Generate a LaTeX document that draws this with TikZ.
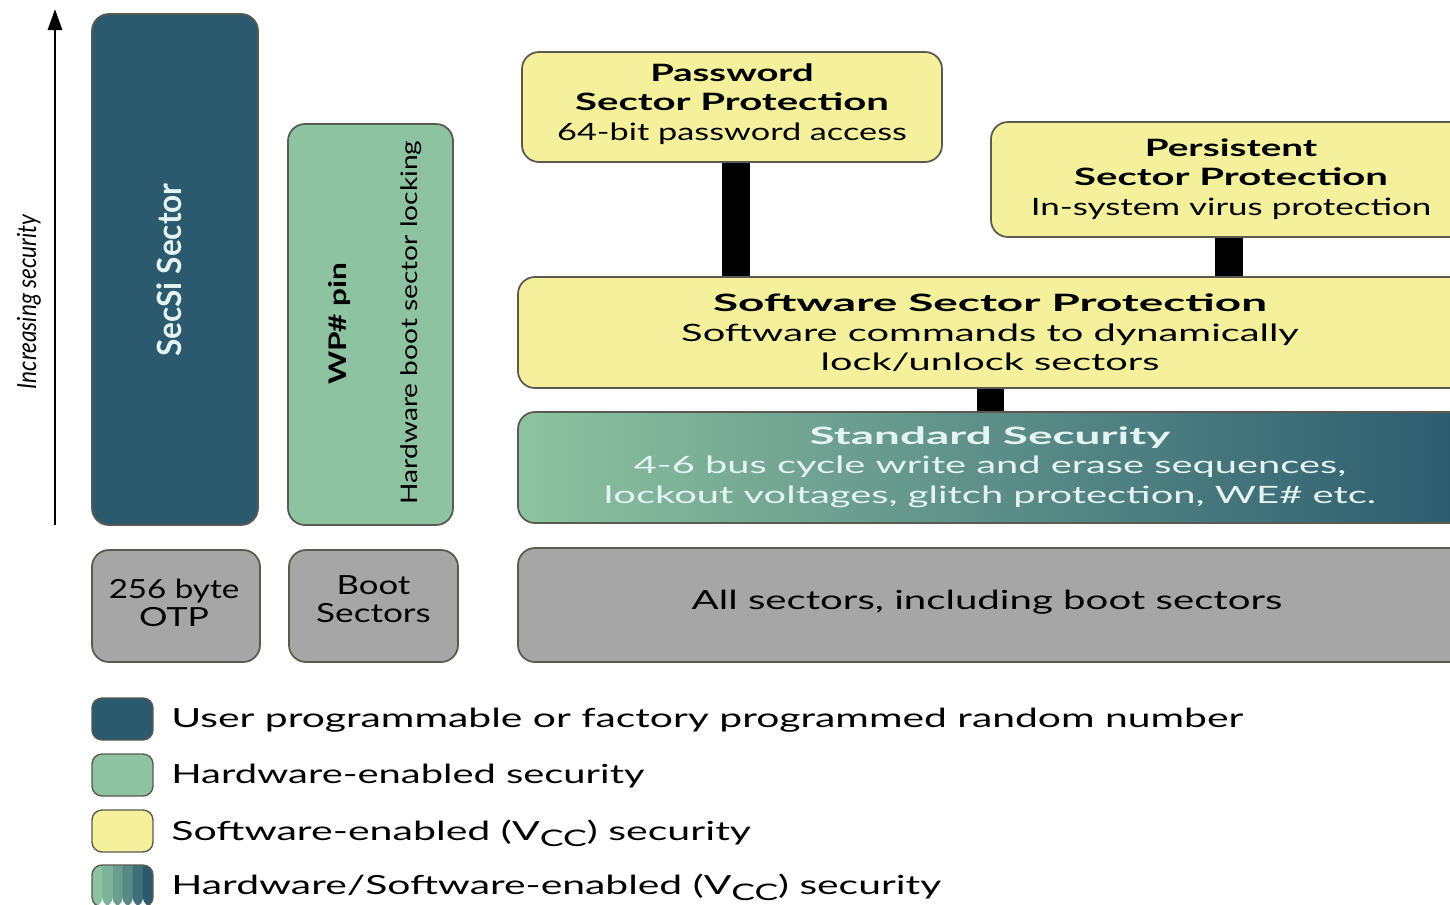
\documentclass[tikz,border=0pt]{standalone}
\usepackage{fontspec}
\setmainfont{Lato}
\usetikzlibrary{arrows.meta}

\definecolor{secteal}{HTML}{2B5A6E}
\definecolor{hwgreen}{HTML}{8EC3A1}
\definecolor{swyellow}{HTML}{F5F09C}
\definecolor{otpgray}{HTML}{A6A6A6}
\definecolor{edgeline}{HTML}{5A5A52}
\definecolor{paletext}{HTML}{E4F4F2}

% one drawing unit, as a TeX length
\newlength{\pxu}
\setlength{\pxu}{0.56693pt}
% set a line to a given run length, keeping its height
\newcommand{\fx}[2]{\resizebox{#1\pxu}{\height}{#2}}

\tikzset{
  blk/.style 2 args={draw=edgeline, line width=1pt, rounded corners=0.34cm,
    minimum width=#1*0.02cm, minimum height=#2*0.02cm, inner sep=0pt},
  swatch/.style={draw=edgeline, line width=0.8pt, rounded corners=0.2cm,
    minimum width=1.22cm, minimum height=0.84cm, inner sep=0pt},
  boxtext/.style={inner sep=0pt, align=center, text=black,
    font=\fontsize{13.6}{16.8}\selectfont},
  bigtext/.style={inner sep=0pt, align=center, text=black,
    font=\fontsize{15}{15.9}\selectfont},
  legtext/.style={inner sep=0pt, anchor=base west, text=black,
    font=\fontsize{15}{18}\selectfont},
  uptext/.style={rotate=90, inner sep=0pt},
  bar/.style={line width=15.9pt, black},
}

\newcommand{\vcc}{V\raisebox{-0.26em}{\fontsize{13}{13}\selectfont CC}}

\begin{document}
\begin{tikzpicture}[x=0.02cm, y=-0.02cm]
\useasboundingbox (0,0) rectangle (1450,904);
\fill[white] (0,0) rectangle (1450,904);
\clip (0,0) rectangle (1450,904);

% security axis
\coordinate (axlo) at (55,525);
\coordinate (axhi) at (55,9);
\draw[line width=1.7pt, -{Triangle[length=12pt, width=8pt]}] (axlo) -- (axhi);
\node[uptext, font=\itshape\fontsize{15}{15}\selectfont]
  (axlabel) at (29,302) {\fx{175}{Increasing security}};

% left columns
\node[blk={166}{511}, fill=secteal] (secsi) at (175,269.5) {};
\node[uptext, text=paletext, font=\bfseries\fontsize{19}{19}\selectfont]
  (secsitxt) at (169.5,270) {\fx{174}{SecSi Sector}};

\node[blk={165}{401}, fill=hwgreen] (wp) at (370.5,324.5) {};
\node[uptext, font=\bfseries\fontsize{13.8}{13.8}\selectfont]
  (wptxt) at (340,323.5) {\fx{123}{WP\# pin}};
\node[uptext, font=\fontsize{13}{13}\selectfont]
  (hwtxt) at (411,322.5) {\fx{365}{Hardware boot sector locking}};

\node[blk={168}{112}, fill=otpgray] (otp) at (176,606) {};
\node[bigtext] (otptxt) at (174,603) {\fx{131}{256 byte}\\\fx{70}{OTP}};
\node[blk={169}{112}, fill=otpgray] (boot) at (373.5,606) {};
\node[bigtext] (boottxt) at (373.5,599) {\fx{74}{Boot}\\\fx{115}{Sectors}};

% protection stack
\node[blk={420}{110}, fill=swyellow] (pw) at (732,107) {};
\node[boxtext] (pwtxt) at (732,104)
  {\fx{164}{\bfseries Password}\\\fx{315}{\bfseries Sector Protection}\\\fx{351}{64-bit password access}};

\node[blk={479}{115}, fill=swyellow] (ps) at (1230.5,179.5) {};
\node[boxtext] (pstxt) at (1231,179)
  {\fx{173}{\bfseries Persistent}\\\fx{315}{\bfseries Sector Protection}\\\fx{402}{In-system virus protection}};

\node[blk={952}{111}, fill=swyellow] (sw) at (994,332.5) {};
\node[boxtext] (swtxt) at (990,333)
  {\fx{556}{\bfseries Software Sector Protection}\\\fx{620}{Software commands to dynamically}\\\fx{340}{lock/unlock sectors}};

\node[blk={952}{111}, left color=hwgreen, right color=secteal] (std) at (994,467.5) {};
\node[boxtext, text=paletext] (stdtxt) at (990,467)
  {\fx{362}{\bfseries Standard Security}\\\fx{715}{4-6 bus cycle write and erase sequences,}\\\fx{775}{lockout voltages, glitch protection, WE\# etc.}};

\node[blk={952}{114}, fill=otpgray] (all) at (994,605) {};
\node[bigtext] (alltxt) at (987,602) {\fx{593}{All sectors, including boot sectors}};

% links between the protection levels
\coordinate (lk1) at (736,0);
\coordinate (lk2) at (1229,0);
\coordinate (lk3) at (990.5,0);
\draw[bar] (pw.south -| lk1) -- (sw.north -| lk1);
\draw[bar] (ps.south -| lk2) -- (sw.north -| lk2);
\draw[bar] (sw.south -| lk3) -- (std.north -| lk3);

% legend
\node[swatch, fill=secteal] (k1) at (122.5,719) {};
\node[legtext] (k1t) at (171,727) {\fx{1076}{User programmable or factory programmed random number}};
\node[swatch, fill=hwgreen] (k2) at (122.5,775) {};
\node[legtext] (k2t) at (171,783) {\fx{475}{Hardware-enabled security}};
\node[swatch, fill=swyellow] (k3) at (122.5,831) {};
\node[legtext] (k3t) at (171,840) {\fx{582}{Software-enabled (\vcc) security}};
\node[swatch, path picture={
    \foreach \c [count=\i from 0] in {hwgreen, hwgreen!85!secteal, hwgreen!65!secteal,
        hwgreen!45!secteal, hwgreen!20!secteal, secteal}
      \fill[\c] ([xshift=\i*0.2033cm]path picture bounding box.south west)
        rectangle ++(0.21cm,1cm);
  }] (k4) at (122.5,886) {};
\node[legtext] (k4t) at (171,894) {\fx{773}{Hardware/Software-enabled (\vcc) security}};
\end{tikzpicture}
\end{document}
